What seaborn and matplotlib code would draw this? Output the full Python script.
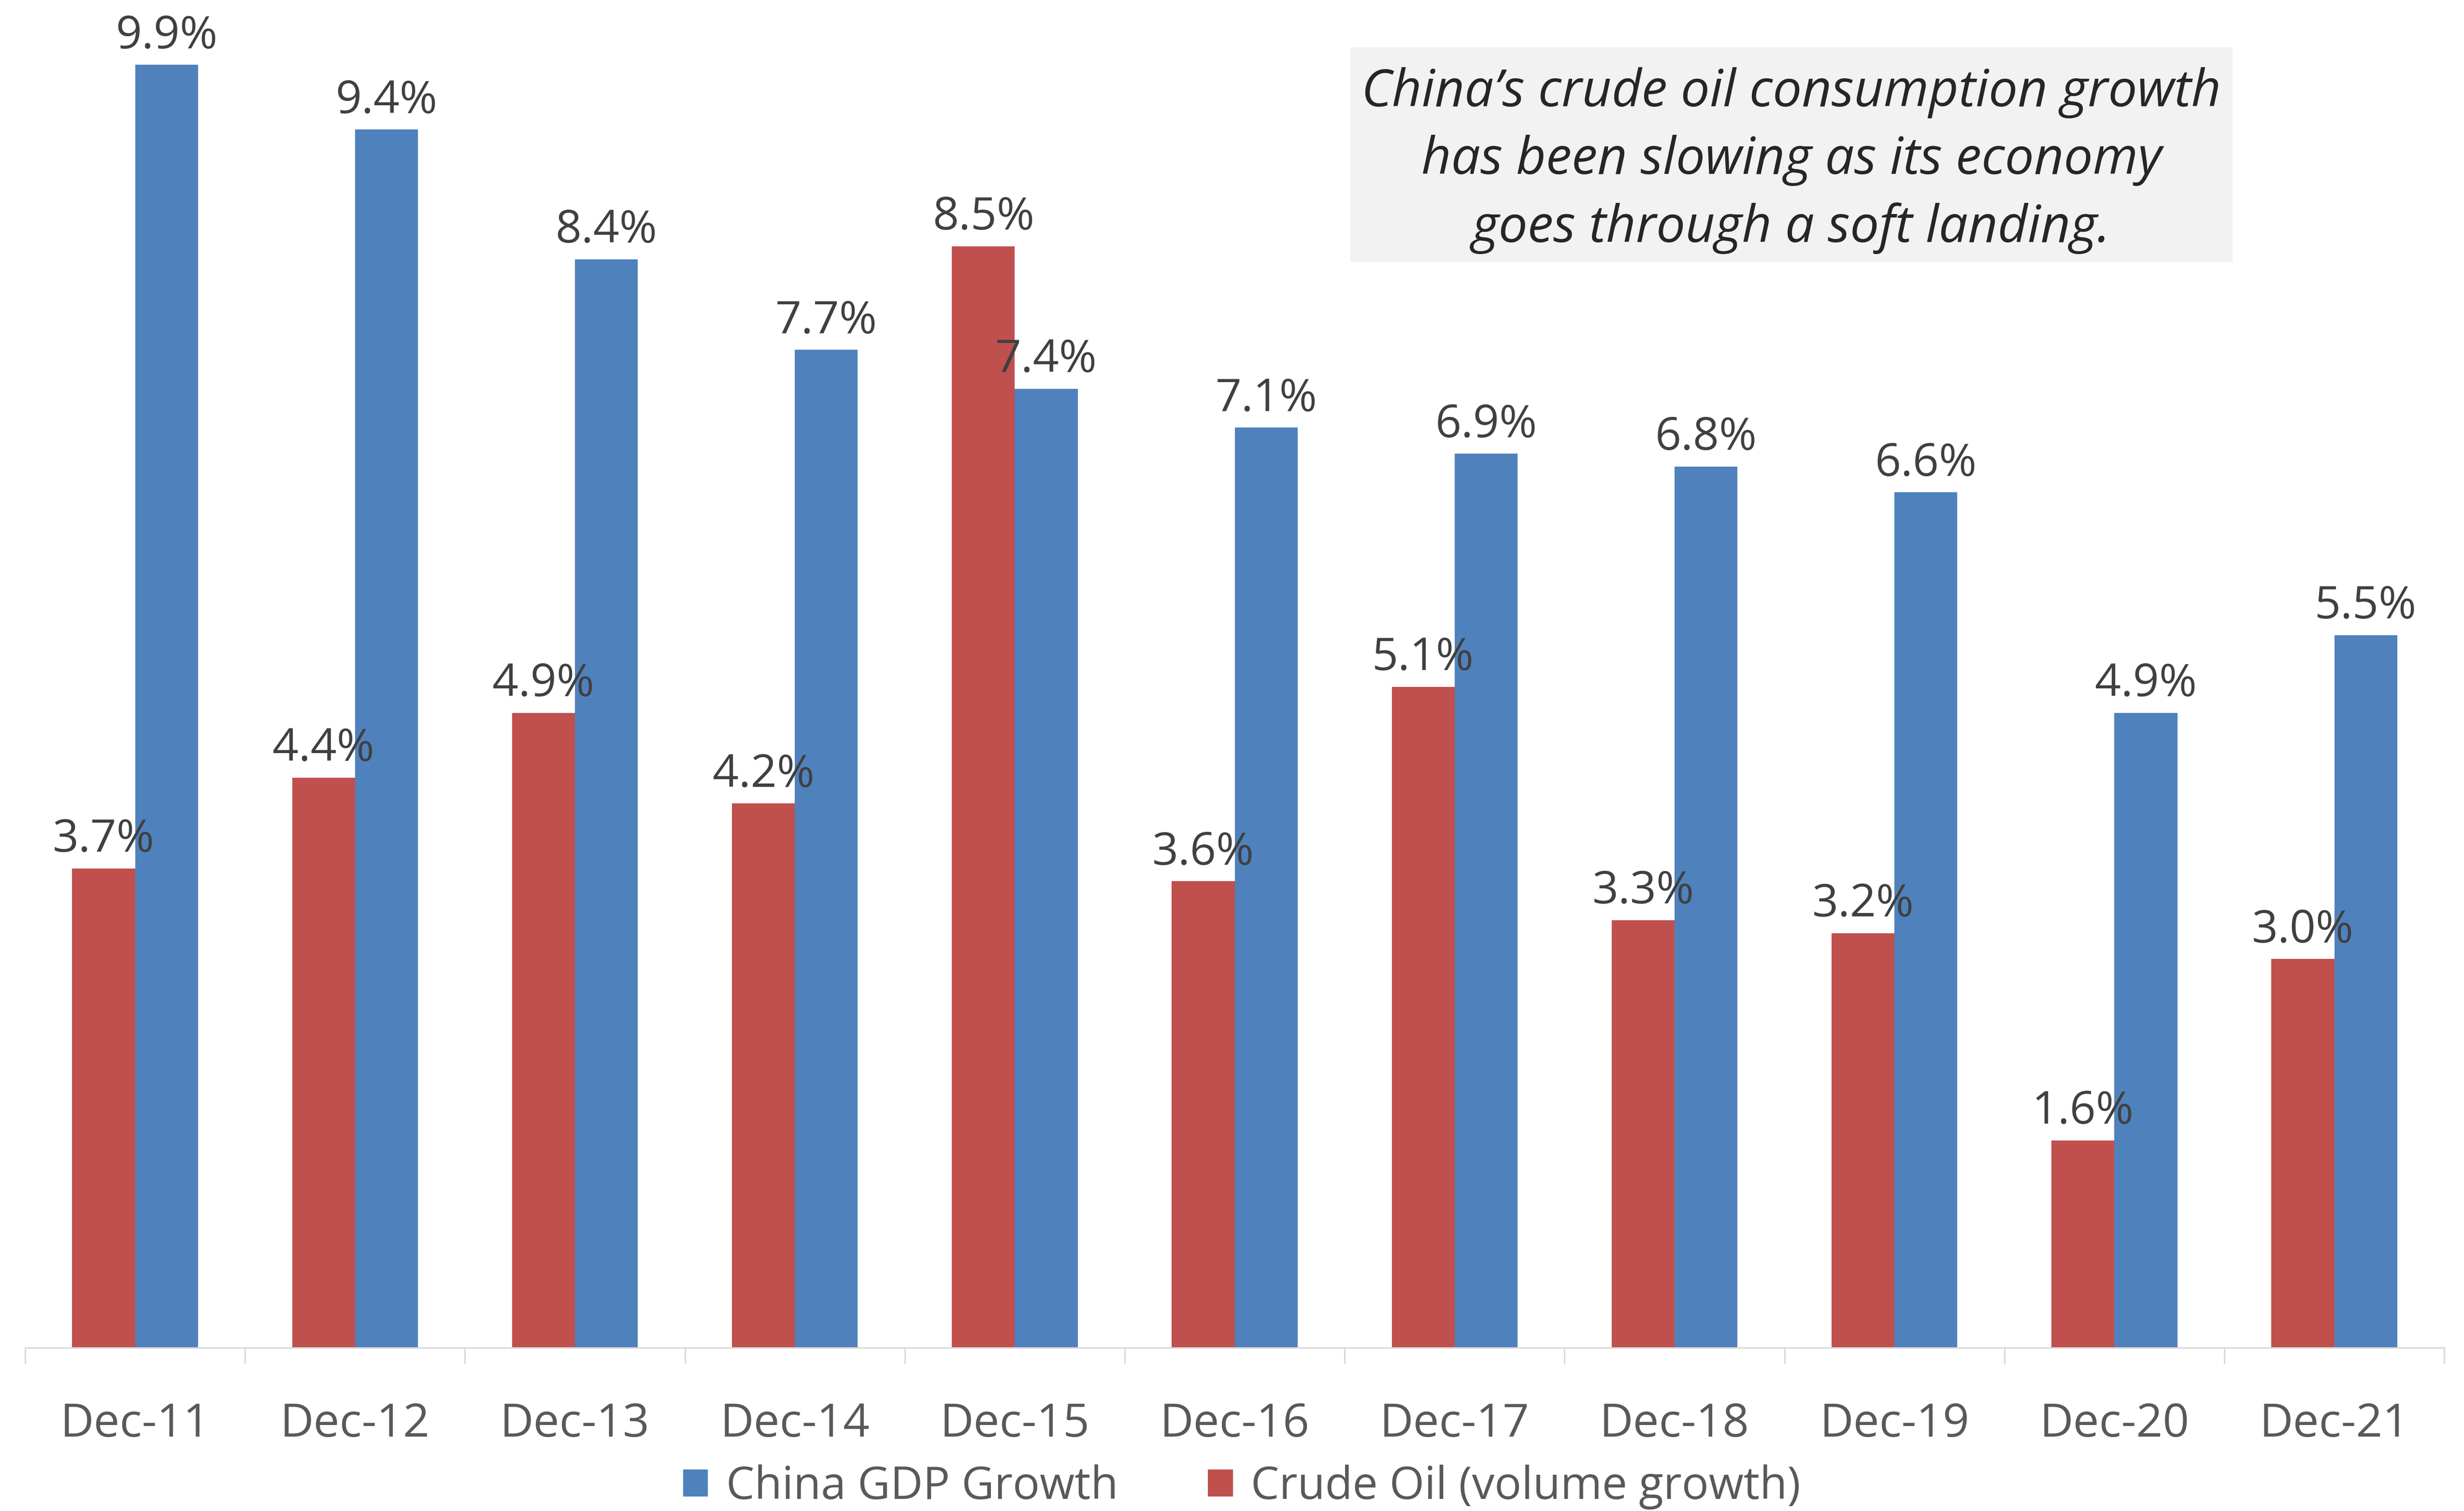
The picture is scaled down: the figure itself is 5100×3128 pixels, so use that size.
import matplotlib
matplotlib.use("Agg")
import matplotlib.pyplot as plt
from matplotlib.patches import Patch, Rectangle
import seaborn as sns
import pandas as pd

# Year-end labels and growth rates (%)
periods = ["Dec-11", "Dec-12", "Dec-13", "Dec-14", "Dec-15", "Dec-16",
           "Dec-17", "Dec-18", "Dec-19", "Dec-20", "Dec-21"]
crude_oil_growth = [3.7, 4.4, 4.9, 4.2, 8.5, 3.6, 5.1, 3.3, 3.2, 1.6, 3.0]
gdp_growth = [9.9, 9.4, 8.4, 7.7, 7.4, 7.1, 6.9, 6.8, 6.6, 4.9, 5.5]

oil_name = "Crude Oil (volume growth)"
gdp_name = "China GDP Growth"
note = ("China\u2019s crude oil consumption growth\n"
        "has been slowing as its economy\n"
        "goes through a soft landing.")

df = pd.DataFrame({
    "period": periods * 2,
    "series": [oil_name] * len(periods) + [gdp_name] * len(periods),
    "value": crude_oil_growth + gdp_growth,
})

sns.set_theme(style="white")
plt.rcParams["font.family"] = ["Open Sans", "DejaVu Sans"]

RED = "#C0504D"
BLUE = "#4F81BD"
LABEL = "#404040"
TICK = "#595959"
GRID = "#D9D9D9"

fig = plt.figure(figsize=(51, 31.28), dpi=100)
ax = fig.add_axes([0.0102, 0.108, 0.9818, 0.892])

sns.barplot(data=df, x="period", y="value", hue="series",
            hue_order=[oil_name, gdp_name], order=periods,
            palette=[RED, BLUE], width=0.572, saturation=1,
            linewidth=0, ax=ax, legend=False)

ax.set_ylim(0, 10.4)
ax.set_xlim(-0.5, len(periods) - 0.5)

for container, vals in zip(ax.containers, [crude_oil_growth, gdp_growth]):
    ax.bar_label(container, labels=[f"{v:.1f}%" for v in vals],
                 padding=9, fontsize=68, color=LABEL)

# Axis styling: only a light baseline with category separators
for side in ["left", "right", "top"]:
    ax.spines[side].set_visible(False)
ax.spines["bottom"].set_color(GRID)
ax.spines["bottom"].set_linewidth(2.2)
ax.set_yticks([])
ax.set_xlabel("")
ax.set_ylabel("")
ax.set_xticks(range(len(periods)))
ax.set_xticklabels(periods)
ax.set_xticks([i - 0.5 for i in range(len(periods) + 1)], minor=True)
ax.tick_params(axis="x", which="major", length=0, pad=80,
               labelsize=69, labelcolor=TICK)
ax.tick_params(axis="x", which="minor", length=24, width=2.2,
               color=GRID, bottom=True)

# Commentary box
fig.patches.append(Rectangle((0.548, 0.8264), 0.358, 0.1423,
                             transform=fig.transFigure,
                             facecolor="#F2F2F2", edgecolor="none",
                             zorder=0))
fig.text(0.727, 0.8937, note, ha="center", va="center",
         fontsize=77, style="italic", color="#262626",
         linespacing=1.42)

handles = [Patch(facecolor=BLUE, edgecolor="none", label=gdp_name),
           Patch(facecolor=RED, edgecolor="none", label=oil_name)]
fig.legend(handles=handles, loc="center", bbox_to_anchor=(0.504, 0.0158),
           ncol=2, frameon=False, fontsize=67, labelcolor=TICK,
           handlelength=0.55, handleheight=0.55, handletextpad=0.4,
           columnspacing=2.0, borderaxespad=0, borderpad=0)

fig.savefig("out.png", dpi=100, facecolor="white")
